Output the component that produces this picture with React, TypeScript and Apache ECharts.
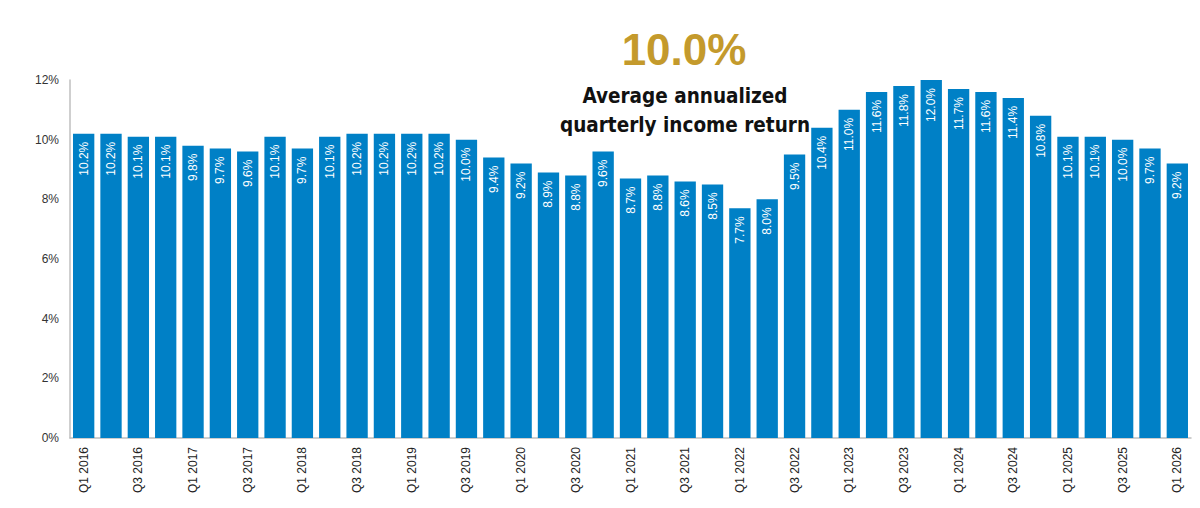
import React, { useEffect, useRef } from "react";
import * as echarts from "echarts";

const years = [2016, 2017, 2018, 2019, 2020, 2021, 2022, 2023, 2024, 2025];
const categories: string[] = [];
years.forEach((y) => {
  ["Q1", "Q2", "Q3", "Q4"].forEach((q) => categories.push(`${q} ${y}`));
});
categories.push("Q1 2026");

const incomeReturn = [
  10.2, 10.2, 10.1, 10.1, 9.8, 9.7, 9.6, 10.1, 9.7, 10.1, 10.2, 10.2, 10.2, 10.2,
  10.0, 9.4, 9.2, 8.9, 8.8, 9.6, 8.7, 8.8, 8.6, 8.5, 7.7, 8.0, 9.5, 10.4, 11.0,
  11.6, 11.8, 12.0, 11.7, 11.6, 11.4, 10.8, 10.1, 10.1, 10.0, 9.7, 9.2,
];

const headlineValue = "10.0%";
const headlineLines = ["Average annualized", "quarterly income return"];

export default function App() {
  const ref = useRef<HTMLDivElement>(null);
  useEffect(() => {
    if (!ref.current) return;
    const chart = echarts.init(ref.current, null, { renderer: "svg" });
    chart.setOption({
      animation: false,
      grid: { left: 62, right: 1, top: 72, bottom: 62 },
      xAxis: {
        type: "category",
        data: categories,
        axisLine: { show: true, lineStyle: { color: "#BFBFBF", width: 1.5 } },
        axisTick: { show: false },
        axisLabel: {
          interval: 1,
          rotate: 90,
          margin: 9,
          fontSize: 12,
          color: "#222",
          fontFamily: "Liberation Sans, Arial, sans-serif",
        },
      },
      yAxis: {
        type: "value",
        min: 0,
        max: 12,
        interval: 2,
        axisLine: { show: true, lineStyle: { color: "#BFBFBF", width: 1.5 } },
        axisTick: { show: false },
        splitLine: { show: false },
        axisLabel: {
          formatter: "{value}%",
          fontSize: 12,
          color: "#333",
          margin: 11,
          fontFamily: "Liberation Sans, Arial, sans-serif",
        },
      },
      series: [
        {
          type: "bar",
          data: incomeReturn,
          barCategoryGap: "22%",
          itemStyle: { color: "#0080C6" },
          label: {
            show: true,
            position: "insideTop",
            rotate: 90,
            align: "right",
            verticalAlign: "middle",
            distance: 8,
            color: "#fff",
            fontSize: 12,
            fontFamily: "Liberation Sans, Arial, sans-serif",
            formatter: (p: any) => `${p.value.toFixed(1)}%`,
          },
        },
      ],
      graphic: [
        {
          type: "text",
          x: 676,
          y: 19,
          style: {
            text: headlineValue,
            fontSize: 44,
            fontWeight: "bold",
            fill: "#C49A2C",
            align: "center",
            verticalAlign: "top",
            fontFamily: "Liberation Sans, Arial, sans-serif",
          },
        },
        {
          type: "text",
          x: 677,
          y: 74,
          style: {
            text: headlineLines.join("\n"),
            fontSize: 20.5,
            lineHeight: 28.5,
            fontWeight: "bold",
            fill: "#111",
            align: "center",
            verticalAlign: "top",
            fontFamily: "Liberation Sans Narrow, DejaVu Sans Condensed, sans-serif",
          },
        },
      ],
    });
    return () => chart.dispose();
  }, []);
  return <div ref={ref} style={{ width: 1184, height: 492 }} />;
}
